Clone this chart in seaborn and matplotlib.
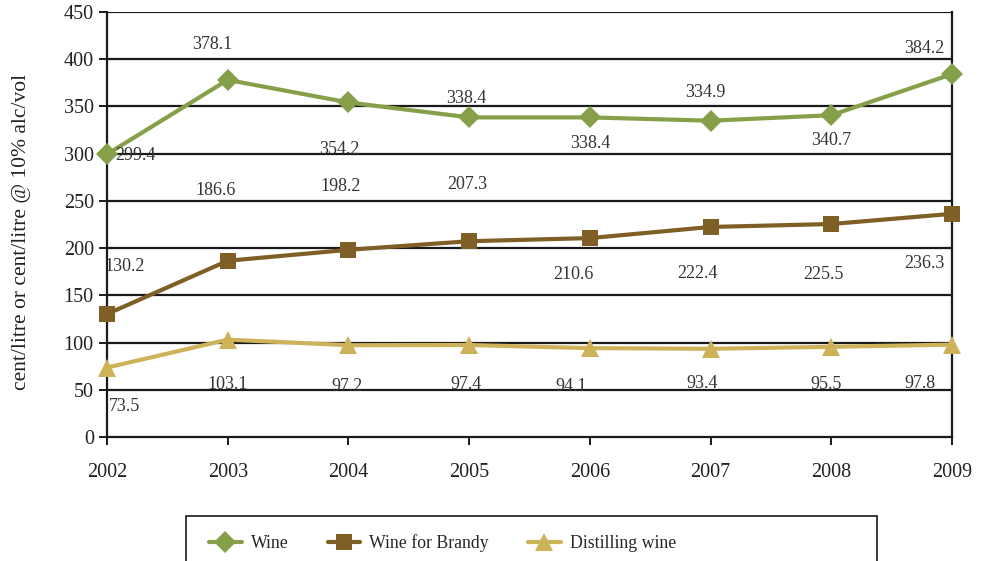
import numpy as np
import pandas as pd
import matplotlib
matplotlib.use("Agg")
import matplotlib.pyplot as plt
from matplotlib.patches import Rectangle
import seaborn as sns

# ---------- datos ----------
years = [2002, 2003, 2004, 2005, 2006, 2007, 2008, 2009]
wine = [299.4, 378.1, 354.2, 338.4, 338.4, 334.9, 340.7, 384.2]
brandy = [130.2, 186.6, 198.2, 207.3, 210.6, 222.4, 225.5, 236.3]
distilling = [73.5, 103.1, 97.2, 97.4, 94.1, 93.4, 95.5, 97.8]
series_names = ["Wine", "Wine for Brandy", "Distilling wine"]
y_ticks = [0, 50, 100, 150, 200, 250, 300, 350, 400, 450]

# desplazamiento de etiquetas (px) respecto al marcador
off_wine = [(28, -1), (-15, 35), (-9, -47), (-3, 19), (0, -26), (-5, 28), (0, -25), (-28, 26)]
off_brandy = [(18, 48), (-12, 70), (-8, 63), (-2, 57), (-16, -36), (-13, -47), (-8, -50), (-28, -50)]
off_dist = [(17, -39), (0, -45), (-1, -41), (-3, -39), (-19, -38), (-9, -35), (-5, -38), (-32, -39)]

colors = ["#86a04a", "#7f5f26", "#cdb25a"]
markers = ["D", "s", "^"]
msizes = [11, 12, 13]

sns.set_theme(style="white")
plt.rcParams['font.family'] = ['Liberation Serif', 'DejaVu Serif']

fig = plt.figure(figsize=(9.85, 5.61), dpi=100)
ax = fig.add_axes([107/985, 1-437/561, (952-107)/985, (437-12)/561])

df = pd.DataFrame({"year": years * 3,
                   "value": wine + brandy + distilling,
                   "serie": sum([[n]*len(years) for n in series_names], [])})

for i, name in enumerate(series_names):
    sub = df[df.serie == name]
    sns.lineplot(data=sub, x="year", y="value", ax=ax, color=colors[i], lw=3,
                 marker=markers[i], markersize=msizes[i], markeredgewidth=0,
                 label=name, zorder=3, clip_on=False)

ax.set_xlim(2002, 2009)
ax.set_ylim(0, 450)
ax.set_yticks(y_ticks)
ax.set_xticks(years)
ax.set_xticklabels([str(y) for y in years])
for y in y_ticks[1:]:
    ax.axhline(y, color='#1a1a1a', lw=1.6, zorder=1)
for s in ['left', 'right', 'bottom']:
    ax.spines[s].set_visible(True)
    ax.spines[s].set_color('#1a1a1a')
    ax.spines[s].set_linewidth(1.6)
ax.spines['top'].set_visible(False)
ax.tick_params(axis='both', direction='out', length=6, width=1.4, color='#1a1a1a',
               labelsize=14.5, labelcolor='#222222', bottom=True, left=True)
ax.tick_params(axis='x', pad=13)
ax.set_xlabel("")
ax.set_ylabel("cent/litre or cent/litre @ 10% alc/vol", fontsize=15.5, color='#222222')
ax.yaxis.set_label_coords(-0.090, 0.482)

# etiquetas de valores
for vals, offs in [(wine, off_wine), (brandy, off_brandy), (distilling, off_dist)]:
    for x, v, (dx, dy) in zip(years, vals, offs):
        ax.annotate(f"{v:.1f}", (x, v), xytext=(dx*0.72, dy*0.72), textcoords='offset points',
                    ha='center', va='center', fontsize=13, color='#333333', zorder=4)

ax.get_legend().remove()
h, l = ax.get_legend_handles_labels()
leg = fig.legend(h, l, loc='center left', ncol=3, bbox_to_anchor=(200/985, 1-543/561),
                 frameon=False, fontsize=12.8, handlelength=1.85, handletextpad=0.5,
                 columnspacing=2.2, borderpad=0)
fig.patches.append(Rectangle((186/985, -0.05), 691/985, 0.05+45/561, transform=fig.transFigure,
                             fill=False, edgecolor='#1a1a1a', lw=1.2))

fig.savefig("out.png", dpi=100)
